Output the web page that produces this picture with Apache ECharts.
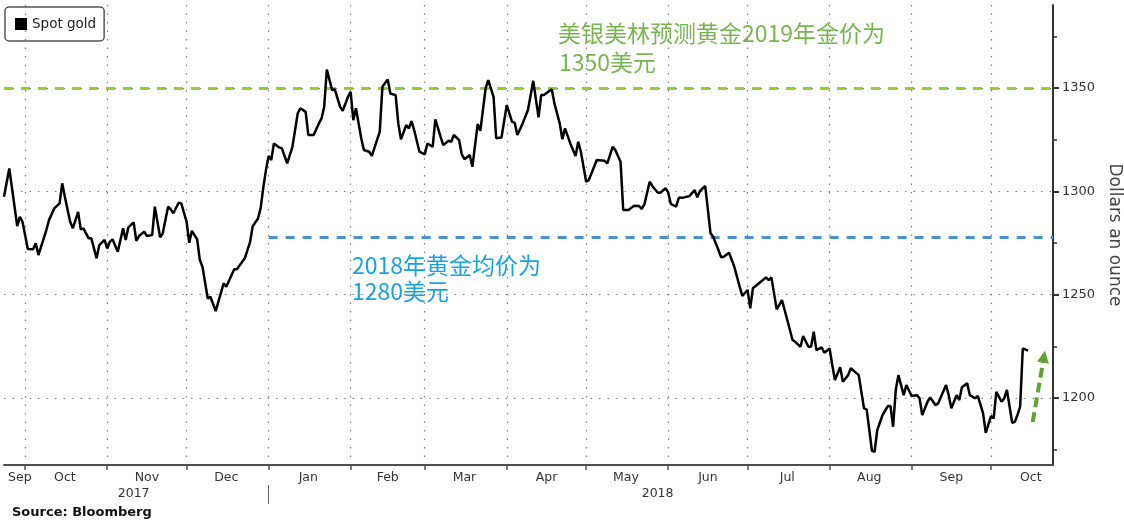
<!DOCTYPE html>
<html><head><meta charset="utf-8">
<script src="https://cdn.jsdelivr.net/npm/echarts@6/dist/echarts.min.js"></script>
<style>html,body{margin:0;padding:0;background:#fff}#c{width:1124px;height:521px}</style>
</head><body><div id="c"></div>
<script>
// ---- data ----
const dates = [
'2017-09-23','2017-09-25','2017-09-28','2017-09-29','2017-09-30','2017-10-02','2017-10-04','2017-10-05','2017-10-06','2017-10-09',
'2017-10-10','2017-10-12','2017-10-14','2017-10-15','2017-10-16','2017-10-18','2017-10-19','2017-10-21','2017-10-22','2017-10-23',
'2017-10-25','2017-10-26','2017-10-28','2017-10-29','2017-10-31','2017-11-01','2017-11-02','2017-11-03','2017-11-05','2017-11-07',
'2017-11-08','2017-11-09','2017-11-11','2017-11-12','2017-11-13','2017-11-15','2017-11-16','2017-11-18','2017-11-19','2017-11-21',
'2017-11-22','2017-11-24','2017-11-25','2017-11-26','2017-11-28','2017-11-29','2017-12-01','2017-12-02','2017-12-03','2017-12-05',
'2017-12-06','2017-12-07','2017-12-09','2017-12-10','2017-12-12','2017-12-15','2017-12-16','2017-12-19','2017-12-20','2017-12-22',
'2017-12-23','2017-12-25','2017-12-26','2017-12-28','2017-12-29','2017-12-30','2017-12-31','2018-01-01','2018-01-02','2018-01-03',
'2018-01-05','2018-01-06','2018-01-08','2018-01-10','2018-01-12','2018-01-13','2018-01-15','2018-01-16','2018-01-18','2018-01-20',
'2018-01-21','2018-01-22','2018-01-23','2018-01-25','2018-01-26','2018-01-28','2018-01-29','2018-01-31','2018-02-01','2018-02-02',
'2018-02-03','2018-02-05','2018-02-06','2018-02-08','2018-02-09','2018-02-12','2018-02-13','2018-02-15','2018-02-16','2018-02-18',
'2018-02-19','2018-02-20','2018-02-22','2018-02-23','2018-02-24','2018-02-25','2018-02-27','2018-03-01','2018-03-02','2018-03-04',
'2018-03-05','2018-03-07','2018-03-08','2018-03-10','2018-03-11','2018-03-12','2018-03-14','2018-03-15','2018-03-16','2018-03-18',
'2018-03-19','2018-03-21','2018-03-22','2018-03-24','2018-03-25','2018-03-27','2018-03-28','2018-03-30','2018-04-01','2018-04-03',
'2018-04-04','2018-04-05','2018-04-07','2018-04-09','2018-04-11','2018-04-13','2018-04-14','2018-04-15','2018-04-18','2018-04-19',
'2018-04-21','2018-04-22','2018-04-23','2018-04-25','2018-04-27','2018-04-28','2018-04-29','2018-05-01','2018-05-02','2018-05-04',
'2018-05-05','2018-05-08','2018-05-09','2018-05-11','2018-05-12','2018-05-14','2018-05-15','2018-05-17','2018-05-19','2018-05-21',
'2018-05-22','2018-05-23','2018-05-25','2018-05-26','2018-05-28','2018-05-29','2018-05-31','2018-06-01','2018-06-02','2018-06-04',
'2018-06-05','2018-06-07','2018-06-09','2018-06-11','2018-06-12','2018-06-13','2018-06-15','2018-06-17','2018-06-18','2018-06-20',
'2018-06-21','2018-06-22','2018-06-24','2018-06-26','2018-06-28','2018-06-29','2018-07-01','2018-07-02','2018-07-03','2018-07-06',
'2018-07-08','2018-07-09','2018-07-10','2018-07-12','2018-07-14','2018-07-15','2018-07-18','2018-07-19','2018-07-21','2018-07-22',
'2018-07-24','2018-07-25','2018-07-26','2018-07-27','2018-07-29','2018-07-30','2018-08-01','2018-08-02','2018-08-03','2018-08-05',
'2018-08-06','2018-08-08','2018-08-09','2018-08-11','2018-08-12','2018-08-14','2018-08-15','2018-08-17','2018-08-18','2018-08-19',
'2018-08-21','2018-08-23','2018-08-24','2018-08-25','2018-08-26','2018-08-27','2018-08-29','2018-08-30','2018-09-01','2018-09-03',
'2018-09-04','2018-09-05','2018-09-07','2018-09-08','2018-09-10','2018-09-11','2018-09-14','2018-09-15','2018-09-16','2018-09-18',
'2018-09-19','2018-09-20','2018-09-22','2018-09-23','2018-09-25','2018-09-26','2018-09-28','2018-09-29','2018-10-01','2018-10-02',
'2018-10-03','2018-10-05','2018-10-06','2018-10-07','2018-10-09','2018-10-10','2018-10-11','2018-10-12','2018-10-13','2018-10-15'
];
const prices = [
1297.4,1311.1,1283.2,1287.7,1285.3,1272.1,1272.0,1274.9,1269.2,1281.3,
1286.1,1291.8,1294.2,1303.9,1297.4,1285.3,1282.1,1290.1,1281.6,1282.1,
1277.3,1277.3,1267.6,1274.0,1276.5,1272.4,1275.6,1276.8,1270.8,1282.1,
1276.5,1282.6,1285.0,1276.1,1278.4,1280.5,1278.4,1278.9,1292.6,1277.8,
1279.7,1292.6,1291.3,1289.4,1294.5,1294.2,1285.3,1275.1,1280.9,1276.8,
1266.8,1263.5,1248.2,1249.0,1242.1,1255.5,1253.9,1262.3,1262.3,1265.9,
1267.6,1275.6,1283.2,1286.9,1292.0,1302.0,1310.3,1317.2,1315.2,1323.2,
1321.3,1320.8,1313.6,1321.6,1337.8,1340.2,1338.5,1327.3,1327.3,1332.9,
1335.3,1341.0,1359.0,1349.0,1349.4,1341.0,1339.0,1345.8,1348.2,1334.5,
1340.2,1325.7,1320.0,1319.2,1317.2,1328.9,1350.6,1354.2,1347.4,1346.6,
1332.9,1325.2,1332.1,1330.5,1334.0,1329.7,1319.2,1317.9,1323.2,1321.6,
1334.9,1326.4,1322.4,1324.5,1324.0,1327.3,1324.8,1317.9,1315.6,1317.6,
1311.9,1332.6,1329.3,1349.9,1353.9,1345.8,1325.7,1326.1,1341.8,1333.7,
1333.2,1327.3,1332.9,1339.4,1353.5,1335.8,1346.6,1346.6,1349.4,1342.6,
1332.9,1325.2,1330.5,1323.2,1317.1,1324.0,1319.2,1304.7,1305.5,1311.9,
1315.2,1314.8,1313.6,1321.6,1320.0,1314.3,1291.0,1291.0,1293.0,1292.9,
1291.6,1293.7,1304.7,1302.6,1299.5,1299.3,1301.5,1299.5,1293.9,1292.6,
1296.9,1297.1,1297.7,1300.6,1297.1,1300.2,1302.6,1279.7,1278.0,1271.6,
1268.1,1268.4,1270.3,1263.5,1253.9,1249.4,1252.3,1243.4,1253.1,1256.3,
1258.4,1257.1,1258.4,1242.9,1247.4,1242.6,1228.1,1227.2,1224.8,1230.0,
1224.8,1224.8,1232.1,1223.2,1224.5,1221.9,1224.0,1216.0,1208.7,1214.9,
1207.9,1211.1,1214.4,1212.2,1211.1,1195.0,1194.5,1174.5,1174.0,1184.5,
1191.8,1196.1,1196.1,1186.1,1203.9,1211.1,1201.4,1206.3,1201.0,1201.4,
1199.9,1191.8,1198.2,1200.3,1196.6,1197.4,1206.3,1201.4,1195.0,1201.4,
1199.0,1205.2,1207.1,1201.4,1199.9,1201.0,1192.6,1183.2,1191.3,1190.2,
1203.0,1198.2,1199.9,1203.9,1188.0,1188.5,1191.8,1195.8,1224.0,1222.9
];
const monthTickDates = ['2017-10-01','2017-11-01','2017-12-01','2018-01-01','2018-02-01','2018-03-01','2018-04-01',
  '2018-05-01','2018-06-01','2018-07-01','2018-08-01','2018-09-01','2018-10-01'];
const monthLabelDates = ['2017-09-29','2017-10-16','2017-11-16','2017-12-16','2018-01-16','2018-02-15','2018-03-16',
  '2018-04-16','2018-05-16','2018-06-16','2018-07-16','2018-08-16','2018-09-16','2018-10-16'];
const monthLabelTexts = ['Sep','Oct','Nov','Dec','Jan','Feb','Mar','Apr','May','Jun','Jul','Aug','Sep','Oct'];
const yearLabelDates = ['2017-11-11','2018-05-28'];
const yearLabelTexts = ['2017','2018'];
const yearSeparatorDates = ['2018-01-01'];
const yMajorTicks = [1200, 1250, 1300, 1350];
const yMinorTicks = [1175, 1225, 1275, 1325, 1375];
const forecast2019 = 1350;
const avg2018 = 1278;
const avgStartDate = '2018-01-01';
const arrowFrom = ['2018-10-16 18:00', 1188.4];
const arrowTo = ['2018-10-21', 1220];
const xMin = '2017-09-23', xMax = '2018-10-24 10:00';
const yMin = 1167.6, yMax = 1390.2;

// ---- chart ----
function toTs(s){
  const m = s.match(/^(\d+)-(\d+)-(\d+)(?:\s+(\d+):(\d+))?$/);
  return new Date(+m[1], +m[2]-1, +m[3], m[4]?+m[4]:0, m[5]?+m[5]:0).getTime();
}
const xMinTs = toTs(xMin), xMaxTs = toTs(xMax);
const monthMap = {}; monthLabelDates.forEach((d,i)=>{ monthMap[toTs(d)] = monthLabelTexts[i]; });
const yearMap = {}; yearLabelDates.forEach((d,i)=>{ yearMap[toTs(d)] = yearLabelTexts[i]; });
const FONT = 'DejaVu Sans';
const dotted = {color:'#7f7f7f', width:1.2, type:[1.5,7]};

const chart = echarts.init(document.getElementById('c'), null, {renderer:'canvas'});
chart.setOption({
  animation:false,
  backgroundColor:'#fff',
  grid:{left:4, right:71, top:5, bottom:56, containLabel:false, outerBoundsMode:'none'},
  legend:{left:5, top:7, data:[{name:'Spot gold', icon:'rect'}], itemWidth:12, itemHeight:12,
    padding:[10,8,10,10], borderColor:'#555', borderWidth:1.5, borderRadius:4, selectedMode:false,
    textStyle:{color:'#222', fontSize:13.5, fontFamily:FONT}},
  xAxis:[{
    type:'value', min:xMinTs, max:xMaxTs, position:'bottom',
    axisLine:{show:true, onZero:false, lineStyle:{color:'#4d4d4d', width:2}},
    axisTick:{show:true, customValues:monthTickDates.map(toTs), length:5, lineStyle:{color:'#4d4d4d', width:1.5}},
    axisLabel:{show:true, customValues:monthLabelDates.map(toTs), formatter:v=>monthMap[v]||'', color:'#333',
      fontSize:12.5, fontFamily:FONT, margin:6, hideOverlap:false, showMinLabel:true, showMaxLabel:true},
    splitLine:{show:true, lineStyle:dotted}
  },{
    type:'value', min:xMinTs, max:xMaxTs, position:'bottom', offset:20,
    axisLine:{show:false},
    axisTick:{show:true, customValues:yearSeparatorDates.map(toTs), length:19, lineStyle:{color:'#666', width:1}},
    axisLabel:{show:true, customValues:yearLabelDates.map(toTs), formatter:v=>yearMap[v]||'', color:'#333',
      fontSize:12.5, fontFamily:FONT, margin:2, hideOverlap:false},
    splitLine:{show:false}
  }],
  yAxis:[{
    type:'value', position:'right', min:yMin, max:yMax,
    axisLine:{show:true, onZero:false, lineStyle:{color:'#333', width:2}},
    axisTick:{show:true, customValues:yMajorTicks, length:6, lineStyle:{color:'#333', width:2}},
    axisLabel:{show:true, customValues:yMajorTicks, formatter:v=>String(v), color:'#333', fontSize:13, fontFamily:FONT, margin:9},
    splitLine:{show:true, lineStyle:dotted},
    name:'Dollars an ounce', nameLocation:'middle', nameRotate:-90, nameGap:48,
    nameTextStyle:{color:'#444', fontSize:17, fontFamily:FONT}
  },{
    type:'value', position:'right', min:yMin, max:yMax,
    axisLine:{show:false},
    axisTick:{show:true, customValues:yMinorTicks, length:4, lineStyle:{color:'#333', width:1.5}},
    axisLabel:{show:false}, splitLine:{show:false}
  }],
  graphic:[
    {type:'text', x:558, y:33, style:{text:'美银美林预测黄金2019年金价为', fill:'#78b552', fontSize:23, fontFamily:'Noto Sans CJK SC', verticalAlign:'middle', align:'left'}},
    {type:'text', x:559, y:62, style:{text:'1350美元', fill:'#78b552', fontSize:23, fontFamily:'Noto Sans CJK SC', verticalAlign:'middle', align:'left'}},
    {type:'text', x:352, y:265, style:{text:'2018年黄金均价为', fill:'#18a2e2', fontSize:23, fontFamily:'Noto Sans CJK SC', verticalAlign:'middle', align:'left'}},
    {type:'text', x:352, y:291, style:{text:'1280美元', fill:'#18a2e2', fontSize:23, fontFamily:'Noto Sans CJK SC', verticalAlign:'middle', align:'left'}},
    {type:'text', x:12, y:513, style:{text:'Source: Bloomberg', fill:'#111', fontSize:13, fontWeight:'bold', fontFamily:FONT, verticalAlign:'middle', align:'left'}}
  ],
  series:[{
    type:'line', name:'Spot gold', xAxisIndex:0, yAxisIndex:0,
    data:dates.map((d,i)=>[toTs(d), prices[i]]),
    symbol:'none', showSymbol:false, smooth:false, z:5,
    lineStyle:{color:'#000', width:2.5}, itemStyle:{color:'#000'},
    markLine:{silent:true, symbol:'none', label:{show:false}, animation:false,
      data:[
        {yAxis:forecast2019, lineStyle:{color:'#99cc33', width:3, type:[9,8]}},
        [{coord:[toTs(avgStartDate), avg2018], lineStyle:{color:'#4a90d6', width:3, type:[9,8]}}, {coord:[xMaxTs, avg2018]}],
        [{coord:[toTs(arrowFrom[0]), arrowFrom[1]], symbol:'none', lineStyle:{color:'#5fa336', width:4, type:[10,5]}},
         {coord:[toTs(arrowTo[0]), arrowTo[1]], symbol:'triangle', symbolSize:[12,12]}]
      ]}
  }]
});
</script></body></html>
